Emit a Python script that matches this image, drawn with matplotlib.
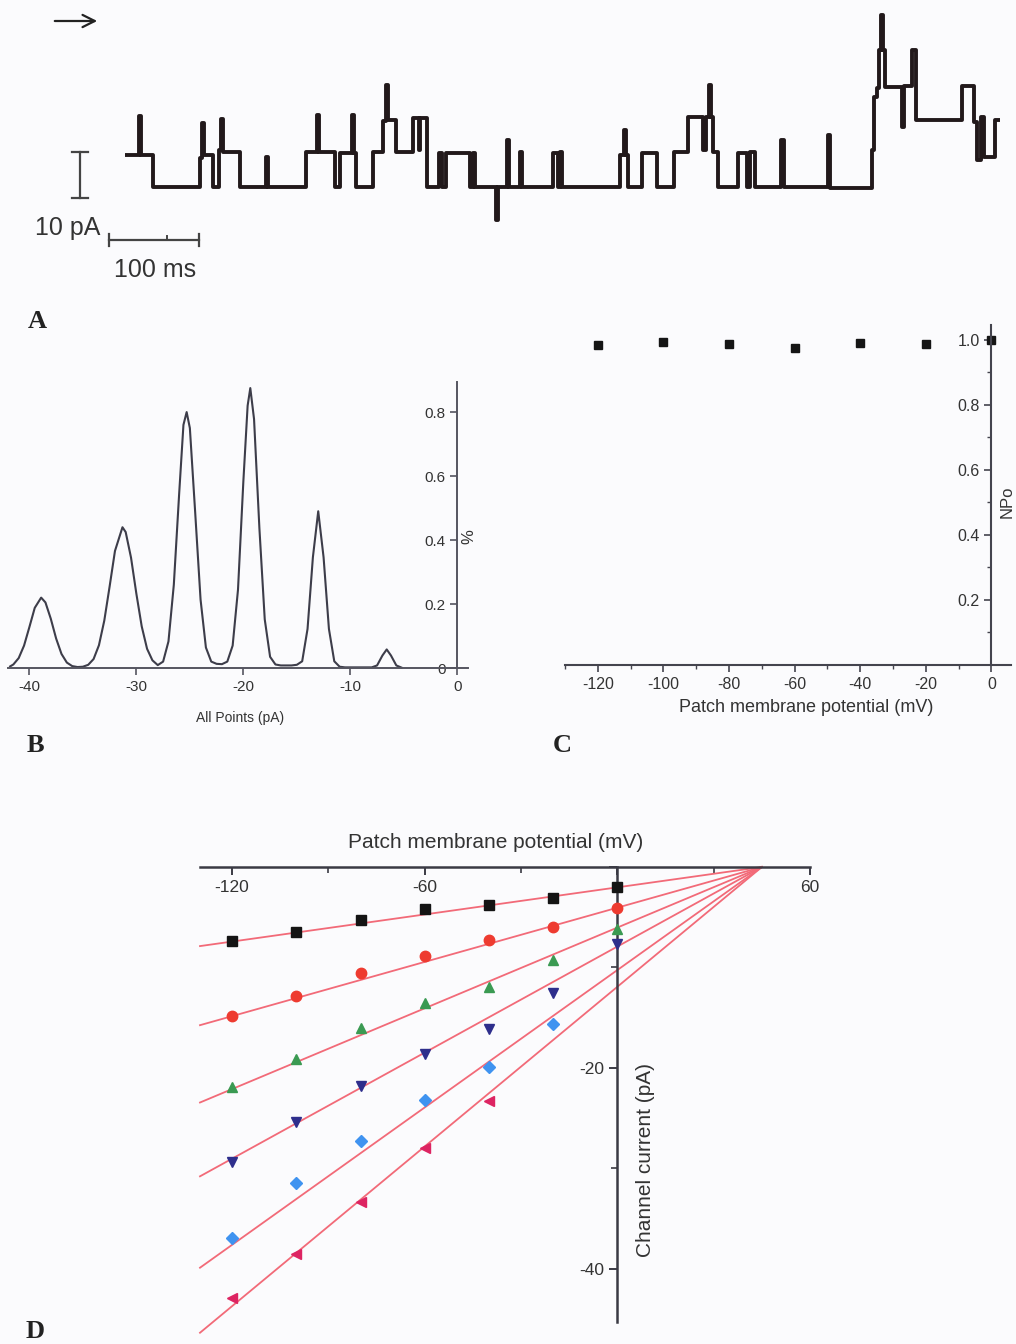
import numpy as np
import matplotlib.pyplot as plt
from matplotlib.ticker import MultipleLocator, FixedLocator

plt.rcParams['font.family'] = ['Liberation Sans', 'DejaVu Sans']

W, H = 1016, 1344

# ---- panel A: single channel trace, step levels (ms, pA)
trace_t = [0, 15, 17, 30, 82, 84, 86, 96, 102, 104, 107, 125, 153, 155, 197, 209, 211,
           228, 234, 247, 249, 251, 269, 280, 284, 286, 294, 313, 319, 321, 328, 341,
           345, 349, 375, 378, 380, 403, 405, 415, 417, 429, 432, 465, 471, 473, 475,
           538, 542, 545, 547, 562, 578, 597, 612, 628, 632, 635, 637, 639, 645, 666,
           676, 679, 685, 713, 716, 764, 766, 812, 814, 817, 820, 822, 824, 826, 844,
           847, 855, 860, 910, 923, 926, 930, 934, 946, 951]
trace_i = [6.7, 15.2, 6.7, -0.3, 6.1, 13.7, 6.7, -0.3, 7.8, 14.6, 7.4, -0.2, 6.3, -0.2, 7.4, 15.4, 7.4,
           -0.2, 7.2, 15.4, 7.2, -0.2, 7.4, 14.1, 22.0, 14.3, 7.4, 14.8, 7.8, 14.8, -0.2, 7.2,
           -0.2, 7.2, -0.2, 7.2, -0.2, -7.4, -0.2, 10.0, -0.2, 7.4, -0.2, 7.2, -0.2, 7.4, -0.2,
           6.7, 12.2, 6.7, -0.2, 7.2, -0.2, 7.4, 15.0, 7.8, 15.0, 22.0, 15.0, 7.4, -0.2, 7.2,
           -0.2, 7.4, -0.2, 10.0, -0.2, 11.1, -0.4, 7.8, 19.3, 21.3, 29.6, 37.2, 29.6, 21.5, 12.8,
           21.7, 29.6, 14.3, 21.7, 13.9, 5.7, 15.0, 6.3, 14.3, 14.3]

# ---- panel B: all-points histogram
hist_x = [-41.8, -41.5, -41.0, -40.5, -40.0, -39.5, -38.9, -38.5, -38.0, -37.5,
          -37.0, -36.5, -36.0, -35.5, -35.0, -34.5, -34.0, -33.5, -33.0, -32.5,
          -32.0, -31.3, -31.0, -30.5, -30.0, -29.5, -29.0, -28.5, -28.0, -27.5,
          -27.0, -26.5, -26.0, -25.6, -25.3, -25.0, -24.5, -24.0, -23.5, -23.0,
          -22.5, -22.0, -21.5, -21.0, -20.5, -20.0, -19.6, -19.35, -19.0, -18.5,
          -18.0, -17.5, -17.0, -16.5, -16.0, -15.5, -15.0, -14.5, -14.0, -13.5,
          -13.0, -12.5, -12.0, -11.5, -11.0, -10.5, -10.0, -9.0, -8.0, -7.5,
          -7.0, -6.6, -6.2, -5.7, -5.2]
hist_y = [0.005, 0.011, 0.031, 0.070, 0.128, 0.188, 0.220, 0.205, 0.154, 0.092,
          0.044, 0.017, 0.006, 0.003, 0.004, 0.010, 0.028, 0.071, 0.148, 0.255,
          0.366, 0.440, 0.425, 0.345, 0.232, 0.130, 0.060, 0.024, 0.009, 0.020,
          0.083, 0.260, 0.545, 0.760, 0.800, 0.750, 0.485, 0.214, 0.064, 0.020,
          0.013, 0.012, 0.020, 0.070, 0.245, 0.583, 0.820, 0.875, 0.778, 0.437,
          0.152, 0.035, 0.011, 0.008, 0.008, 0.008, 0.010, 0.021, 0.122, 0.346,
          0.490, 0.346, 0.122, 0.021, 0.004, 0.002, 0.002, 0.002, 0.002, 0.008,
          0.039, 0.058, 0.039, 0.008, 0.001]

# ---- panel C: NPo vs potential
npo_v = [-120, -100, -80, -60, -40, -20, 0]
npo = [0.985, 0.994, 0.988, 0.975, 0.990, 0.988, 1.0]

# ---- panel D: I-V relations
iv_v = [-120, -100, -80, -60, -40, -20, 0]
iv_sets = [
    [-7.4, -6.5, -5.3, -4.2, -3.8, -3.1, -2.0],
    [-14.8, -12.8, -10.6, -8.9, -7.3, -6.0, -4.1],
    [-21.9, -19.1, -16.0, -13.5, -11.9, -9.3, -6.2],
    [-29.4, -25.4, -21.8, -18.6, -16.1, -12.5, -7.7],
    [-36.9, -31.5, -27.3, -23.2, -19.9, -15.6],
    [-42.9, -38.5, -33.4, -28.0, -23.3],
]
iv_slopes = [0.045, 0.090, 0.134, 0.176, 0.228, 0.265]  # fitted slope of each line
e_rev = 45  # mV, where the fits meet
iv_markers = ['s', 'o', '^', 'v', 'D', '<']
iv_colors = ['#141414', '#ee3b30', '#3a9a52', '#2e2e8c', '#3f93f0', '#dd2462']


fig = plt.figure(figsize=(W / 100, H / 100), dpi=100, facecolor='#fbfbfd')


def px_axes(l, t, r, b):
    ax = fig.add_axes([l / W, 1 - b / H, (r - l) / W, (b - t) / H])
    ax.set_facecolor('none')
    return ax


# overlay for scale bars / panel letters
ov = fig.add_axes([0, 0, 1, 1])
ov.set_xlim(0, W)
ov.set_ylim(H, 0)
ov.axis('off')

# A
axA = px_axes(125, 10, 1000, 225)
axA.plot(trace_t, trace_i, drawstyle='steps-post', color='#22191b', lw=2.8)
axA.set_xlim(0, 951)
axA.set_ylim((186 - 225) / 4.6, (186 - 10) / 4.6)
axA.axis('off')

ov.annotate('', xy=(100, 21), xytext=(52, 21),
            arrowprops=dict(arrowstyle='->', lw=1.6, color='#222', mutation_scale=22))
ov.plot([80, 80], [152, 198], color='#444', lw=1.6)
ov.plot([72, 88], [152, 152], color='#444', lw=1.6)
ov.plot([72, 88], [198, 198], color='#444', lw=1.6)
ov.text(68, 228, '10 pA', fontsize=18, color='#333', ha='center', va='center')
ov.plot([109, 199], [240, 240], color='#444', lw=1.6)
ov.plot([109, 109], [234, 246], color='#444', lw=1.6)
ov.plot([199, 199], [234, 246], color='#444', lw=1.6)
ov.plot([167, 167], [236, 240], color='#444', lw=1.4)
ov.text(155, 270, '100 ms', fontsize=18, color='#333', ha='center', va='center')

for lab, x, y in [('A', 37, 322), ('B', 35, 746), ('C', 562, 746), ('D', 35, 1332)]:
    ov.text(x, y, lab, fontsize=19, fontweight='bold', family='Liberation Serif',
            color='#222', ha='center', va='center')

# B
axB = px_axes(8, 382, 468, 668)
axB.plot(hist_x, hist_y, color='#3d3d4a', lw=1.5, clip_on=False)
axB.set_xlim(-42, 1.0)
axB.set_ylim(0, 0.894)
for s in ('top', 'right'):
    axB.spines[s].set_visible(False)
axB.spines['left'].set_position(('data', 0))
for s in ('left', 'bottom'):
    axB.spines[s].set_color('#555560')
    axB.spines[s].set_linewidth(1.4)
axB.set_xticks([-40, -30, -20, -10, 0])
axB.set_xticklabels(['-40', '-30', '-20', '-10', '0'])
axB.set_yticks([0, 0.2, 0.4, 0.6, 0.8])
axB.set_yticklabels(['0', '0.2', '0.4', '0.6', '0.8'])
axB.tick_params(direction='out', length=5, width=1.2, color='#555560',
                labelsize=11, labelcolor='#333')
axB.text(0.4, 0.41, '%', fontsize=12, rotation=90, ha='left', va='center', color='#333')
ov.text(240, 718, 'All Points (pA)', fontsize=10, ha='center', va='center', color='#333')

# C
axC = px_axes(565, 325, 1011, 665)
axC.plot(npo_v, npo, 's', color='#151515', ms=5.5, clip_on=False)
axC.set_xlim(-130, 6)
axC.set_ylim(0, 1.046)
for s in ('top', 'right'):
    axC.spines[s].set_visible(False)
axC.spines['left'].set_position(('data', 0))
for s in ('left', 'bottom'):
    axC.spines[s].set_color('#44444e')
    axC.spines[s].set_linewidth(1.5)
axC.set_xticks([-120, -100, -80, -60, -40, -20, 0])
axC.set_xticklabels(['-120', '-100', '-80', '-60', '-40', '-20', '0'])
axC.xaxis.set_minor_locator(MultipleLocator(10))
axC.set_yticks([0.2, 0.4, 0.6, 0.8, 1.0])
axC.set_yticklabels(['0.2', '0.4', '0.6', '0.8', '1.0'])
axC.yaxis.set_minor_locator(FixedLocator([0.1, 0.3, 0.5, 0.7, 0.9]))
axC.tick_params(which='major', direction='out', length=5, width=1.2, color='#44444e',
                labelsize=11.5, labelcolor='#333')
axC.tick_params(which='minor', direction='out', length=3, width=1.0, color='#44444e')
ov.text(1007, 502, 'NPo', fontsize=12, rotation=90, ha='center', va='center', color='#333')
ov.text(806, 708, 'Patch membrane potential (mV)', fontsize=13, ha='center', va='center',
        color='#333')

# D
axD = px_axes(200, 867, 810, 1334)
fit_x = np.array([-130, e_rev])
for ys, g, m, c in zip(iv_sets, iv_slopes, iv_markers, iv_colors):
    axD.plot(fit_x, g * (fit_x - e_rev), color='#f26a78', lw=1.3, clip_on=False, zorder=2)
    ms = 6.5 if m == 'D' else 7.5
    axD.plot(iv_v[:len(ys)], ys, m, color=c, ms=ms, mec=c, clip_on=False, zorder=3)
axD.set_xlim(-130, 60)
axD.set_ylim(-46.5, 0)
for s in ('top', 'right'):
    axD.spines[s].set_visible(False)
axD.spines['left'].set_position(('data', 0))
axD.spines['bottom'].set_position(('data', 0))
axD.spines['left'].set_bounds(-45.3, 0)
for s in ('left', 'bottom'):
    axD.spines[s].set_color('#3a3a44')
    axD.spines[s].set_linewidth(1.8)
axD.set_xticks([-120, -60, 0, 60])
axD.set_xticklabels(['-120', '-60', '', '60'])
axD.xaxis.set_minor_locator(FixedLocator([-90, -30, 30]))
axD.set_yticks([-40, -20, 0])
axD.set_yticklabels(['-40', '-20', ''])
axD.yaxis.set_minor_locator(FixedLocator([-30, -10]))
axD.tick_params(which='major', direction='out', length=6, width=1.4, color='#3a3a44',
                labelsize=12.5, labelcolor='#333')
axD.tick_params(which='minor', direction='out', length=4, width=1.2, color='#3a3a44')
axD.text(8.7, -29.2, 'Channel current (pA)', fontsize=15, rotation=90, ha='center',
         va='center', color='#333')
ov.text(496, 843, 'Patch membrane potential (mV)', fontsize=15, ha='center', va='center',
        color='#333')

fig.savefig('out.png', dpi=100, facecolor=fig.get_facecolor())
